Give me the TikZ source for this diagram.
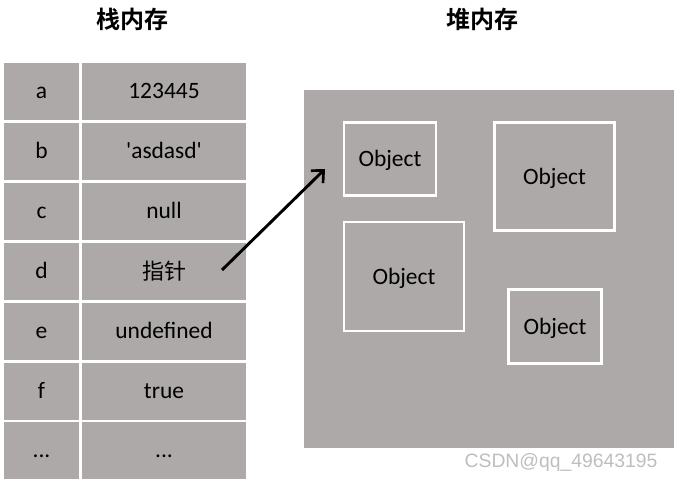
\documentclass[tikz,border=0pt]{standalone}
\usepackage{fontspec}
\setmainfont{Carlito}
\newfontfamily\calfont{Carlito}
\newfontfamily\cjkfont{Noto Sans CJK SC}
\newfontfamily\cjkbold{Noto Sans CJK SC Bold}
\newfontfamily\wmfont{Liberation Sans}
\usetikzlibrary{arrows.meta}
\definecolor{cellgray}{RGB}{173,169,168}
\definecolor{wmgray}{RGB}{190,190,190}
\begin{document}
\begin{tikzpicture}[x=0.75pt,y=-0.75pt,
  cellbox/.style={fill=cellgray,draw=none,inner sep=0pt,outer sep=0pt,
    font=\calfont\fontsize{17.6}{20}\selectfont,text=black,text height=11pt,text depth=0pt},
  keycell/.style={cellbox,minimum width=56.25pt,minimum height=42.75pt},
  valcell/.style={cellbox,minimum width=123pt,minimum height=42.75pt},
  objbox/.style={draw=white,line width=2pt,inner sep=0pt,
    font=\calfont\fontsize{17.6}{20}\selectfont,text=black,text height=11.3pt,text depth=0pt},
  title/.style={font=\cjkbold\fontsize{18}{20}\selectfont,text=black,inner sep=0pt},
  ptr/.style={line width=2.2pt,-{Straight Barb[length=7pt,width=13pt,line width=2pt]}}]
\useasboundingbox (0,0) rectangle (674,482);
% titles
\node[title] (t1) at (132,19) {栈内存};
\node[title] (t2) at (482,19) {堆内存};
% stack table
\node[keycell] (ka) at (41.5,91.5) {a};
\node[valcell] (va) at (164,91.5) {123445};
\node[keycell] (kb) at (41.5,151.5) {b};
\node[valcell] (vb) at (164,151.5) {'asdasd'};
\node[keycell] (kc) at (41.5,211.5) {c};
\node[valcell] (vc) at (164,211.5) {null};
\node[keycell] (kd) at (41.5,271.5) {d};
\node[valcell,text height=,text depth=] (vd) at (164,271.5) {\cjkfont\fontsize{16.5}{20}\selectfont 指针};
\node[keycell] (ke) at (41.5,331.5) {e};
\node[valcell] (ve) at (164,331.5) {undefined};
\node[keycell] (kf) at (41.5,391.5) {f};
\node[valcell] (vf) at (164,391.5) {true};
\node[keycell] (kg) at (41.5,450.5) {...};
\node[valcell] (vg) at (164,450.5) {...};
% heap
\node[cellbox,minimum width=277.5pt,minimum height=268.5pt] (heap) at (489,268.5) {};
\node[objbox,minimum width=69pt,minimum height=54.75pt] (o1) at (390,159) {Object};
\node[objbox,minimum width=90pt,minimum height=81pt] (o2) at (554.5,176.5) {Object};
\node[objbox,minimum width=90pt,minimum height=81.75pt] (o3) at (404,276.5) {Object};
\node[objbox,minimum width=69.75pt,minimum height=55.5pt] (o4) at (555,326.5) {Object};
% pointer arrow
\coordinate (ps) at (222,270);
\coordinate (pe) at (325,169);
\draw[ptr] (ps) -- (pe);
% watermark
\node[font=\wmfont\fontsize{14.5}{16}\selectfont,text=wmgray,inner sep=0pt] (wm) at (561,462) {CSDN@qq\_49643195};
\end{tikzpicture}
\end{document}
